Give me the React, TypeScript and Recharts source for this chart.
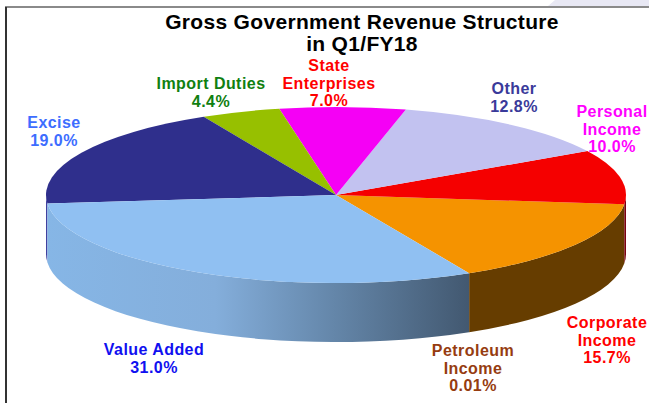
import React from "react";
import { PieChart, Pie } from "recharts";

const sliceNames = [
  "Petroleum Income",
  "Corporate Income",
  "Personal Income",
  "Other",
  "State Enterprises",
  "Import Duties",
  "Excise",
  "Value Added",
];
const sliceValues = [0.01, 15.7, 10.0, 12.8, 7.0, 4.4, 19.0, 31.0];
const topColors = ["#90c0f2", "#f59300", "#f50000", "#c2c2f0", "#f500f5", "#97c000", "#2f2f8c", "#90c0f2"];
const wallColors = ["#425870", "#663d00", "#7a0010", "#c2c2f0", "#f500f5", "#97c000", "#4040a0", "url(#valueAddedWall)"];
const labelLines = [
  ["Petroleum", "Income", "0.01%"],
  ["Corporate", "Income", "15.7%"],
  ["Personal", "Income", "10.0%"],
  ["Other", "12.8%"],
  ["State", "Enterprises", "7.0%"],
  ["Import Duties", "4.4%"],
  ["Excise", "19.0%"],
  ["Value Added", "31.0%"],
];
const labelColors = ["#963c10", "#ff0000", "#ff00ff", "#3a3a9a", "#ff0000", "#108010", "#3d6dff", "#1010f0"];
const titleLines = ["Gross Government Revenue Structure", "in Q1/FY18"];

// label anchors (centre x, first baseline y)
const labelSpots = [
  [473, 356],
  [607, 328],
  [612, 117],
  [514, 94],
  [329, 71],
  [211, 89],
  [54, 128],
  [154, 355],
];

const W = 649;
const H = 403;
const CX = 336;
const CY = 195;
const RX = 290;
const RY = 88;
const DEPTH = 59;
const START_ANGLE = -62.7;
const FONT = "'Liberation Sans', Arial, sans-serif";

const pieData = sliceNames.map((name, i) => ({
  name,
  value: sliceValues[i],
  top: topColors[i],
  wall: wallColors[i],
}));

// the pie is tilted, so a library angle lands on an ellipse
const onRim = (deg: number, rx: number, ry: number, cx: number, cy: number) => {
  const t = (deg * Math.PI) / 180;
  return `${cx + rx * Math.cos(t)} ${cy - ry * Math.sin(t)}`;
};

const TopSlice = (props: any) => {
  const { cx, cy, outerRadius: rx, startAngle, endAngle, payload } = props;
  const ry = (rx * RY) / RX;
  const large = endAngle - startAngle > 180 ? 1 : 0;
  const d = `M ${cx} ${cy} L ${onRim(startAngle, rx, ry, cx, cy)} A ${rx} ${ry} 0 ${large} 0 ${onRim(endAngle, rx, ry, cx, cy)} Z`;
  return <path d={d} fill={payload.top} />;
};

// only the part of a slice facing the viewer has a wall
const WallSlice = (props: any) => {
  const { cx, cy, outerRadius: rx, startAngle, endAngle, payload } = props;
  const ry = (rx * RY) / RX;
  const walls: string[] = [];
  [[-180, 0], [180, 360]].forEach(([lo, hi]) => {
    const a = Math.max(startAngle, lo);
    const b = Math.min(endAngle, hi);
    if (b <= a) return;
    walls.push(
      `M ${onRim(a, rx, ry, cx, cy)} A ${rx} ${ry} 0 0 0 ${onRim(b, rx, ry, cx, cy)} ` +
        `L ${onRim(b, rx, ry, cx, cy + DEPTH)} A ${rx} ${ry} 0 0 1 ${onRim(a, rx, ry, cx, cy + DEPTH)} Z`
    );
  });
  return <path d={walls.join(" ")} fill={payload.wall} />;
};

const SliceLabel = (props: any) => {
  const i = props.index;
  const [x, y] = labelSpots[i];
  return (
    <text
      x={x}
      y={y}
      textAnchor="middle"
      fontFamily={FONT}
      fontSize={16}
      letterSpacing={0.45}
      fontWeight="bold"
      fill={labelColors[i]}
    >
      {labelLines[i].map((line, n) => (
        <tspan key={line} x={x} y={y + n * 17.5}>
          {line}
        </tspan>
      ))}
    </text>
  );
};

export default function App() {
  return (
    <div style={{ position: "absolute", left: 0, top: 0, width: W, height: H, background: "#fff", overflow: "hidden" }}>
      <div
        style={{
          position: "absolute",
          left: 548,
          top: 0,
          width: 110,
          height: 6,
          background: "#e8e8f4",
          clipPath: "polygon(7px 0, 100% 0, 100% 100%, 0 100%)",
        }}
      />
      <div style={{ position: "absolute", left: 5, top: 6, width: 644, height: 2, background: "#8a8a8a" }} />
      <div style={{ position: "absolute", left: 5, top: 7, width: 2, height: 396, background: "#333" }} />
      <div style={{ position: "absolute", left: 0, top: 0 }}>
        <PieChart width={W} height={H} margin={{ top: 0, right: 0, bottom: 0, left: 0 }}>
          <defs>
            <linearGradient id="valueAddedWall" gradientUnits="userSpaceOnUse" x1={46} y1={0} x2={470} y2={0}>
              <stop offset="0" stopColor="#86b6e6" />
              <stop offset="0.4" stopColor="#84aedb" />
              <stop offset="0.68" stopColor="#6486a9" />
              <stop offset="1" stopColor="#425870" />
            </linearGradient>
          </defs>
          <text x={362} textAnchor="middle" fontFamily={FONT} fontSize={21} letterSpacing={0.32} fontWeight="bold" fill="#000">
            <tspan x={362} y={29}>{titleLines[0]}</tspan>
            <tspan x={362} y={51}>{titleLines[1]}</tspan>
          </text>
          <Pie
            data={pieData}
            dataKey="value"
            cx={CX}
            cy={CY}
            outerRadius={RX}
            startAngle={START_ANGLE}
            endAngle={START_ANGLE + 360}
            stroke="none"
            shape={WallSlice}
            label={false}
            labelLine={false}
            isAnimationActive={false}
          />
          <Pie
            data={pieData}
            dataKey="value"
            cx={CX}
            cy={CY}
            outerRadius={RX}
            startAngle={START_ANGLE}
            endAngle={START_ANGLE + 360}
            stroke="none"
            shape={TopSlice}
            label={SliceLabel}
            labelLine={false}
            isAnimationActive={false}
          />
        </PieChart>
      </div>
    </div>
  );
}
